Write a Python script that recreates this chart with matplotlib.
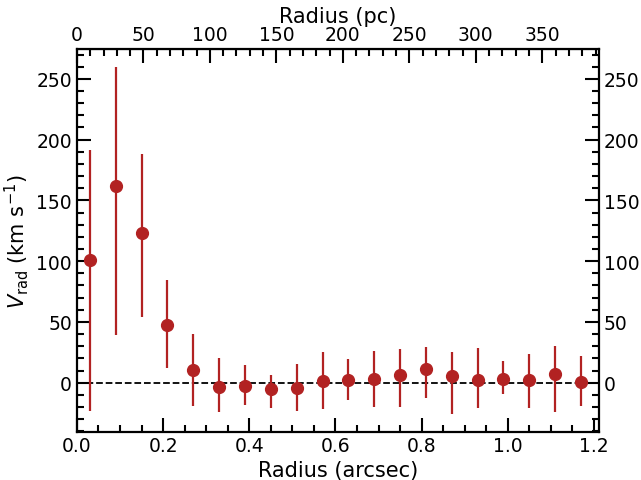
import numpy as np
import matplotlib.pyplot as plt
from matplotlib.ticker import MultipleLocator

# radial velocity profile
radius_arcsec = np.arange(20) * 0.06 + 0.03
v_rad = np.array([100.8, 162.0, 123.5, 47.3, 10.5, -3.2, -2.7, -5.5, -4.4, 1.7,
                  2.2, 2.8, 6.4, 11.0, 5.6, 2.5, 3.3, 2.5, 7.5, 0.9])
v_top = np.array([191.7, 259.6, 187.9, 84.6, 40.4, 20.6, 14.8, 6.0, 15.0, 25.0,
                  19.4, 26.4, 27.8, 29.4, 25.5, 28.6, 18.0, 24.0, 30.0, 22.0])
v_bot = np.array([-23.6, 39.2, 53.8, 12.0, -19.5, -24.0, -18.4, -20.5, -23.0, -22.0,
                  -14.4, -19.7, -20.3, -12.5, -26.0, -20.5, -9.5, -20.5, -24.4, -18.9])

PC_PER_ARCSEC = 324.0

fig = plt.figure(figsize=(6.41, 4.81), dpi=100)
ax = fig.add_axes([0.120, 0.1008, 0.814, 0.795])

yerr = np.vstack([v_rad - v_bot, v_top - v_rad])
ax.errorbar(radius_arcsec, v_rad, yerr=yerr, fmt='o', color='#b22222',
            ms=8.5, elinewidth=1.6, capsize=0, zorder=3)
ax.axhline(0, color='k', ls='--', lw=1.3, zorder=2)

ax.set_xlim(0, 1.211)
ax.set_ylim(-40.2, 274.5)
ax.set_xlabel('Radius (arcsec)', fontsize=15, labelpad=3)
ax.set_ylabel(r'$V_{\rm rad}$ (km s$^{-1}$)', fontsize=15)

ax.xaxis.set_major_locator(MultipleLocator(0.2))
ax.xaxis.set_minor_locator(MultipleLocator(0.05))
ax.yaxis.set_major_locator(MultipleLocator(50))
ax.yaxis.set_minor_locator(MultipleLocator(10))
ax.tick_params(which='both', direction='in', top=False, right=True,
               labelright=True, labelsize=13.5, width=1.5)
ax.tick_params(which='major', length=10)
ax.tick_params(which='minor', length=5)
for sp in ax.spines.values():
    sp.set_linewidth(1.6)

sec = ax.secondary_xaxis('top', functions=(lambda x: x * PC_PER_ARCSEC,
                                           lambda x: x / PC_PER_ARCSEC))
sec.set_xlabel('Radius (pc)', fontsize=15, labelpad=2)
sec.xaxis.set_major_locator(MultipleLocator(50))
sec.xaxis.set_minor_locator(MultipleLocator(10))
sec.tick_params(which='both', direction='in', labelsize=13.5, width=1.5)
sec.tick_params(which='major', length=10)
sec.tick_params(which='minor', length=5)

fig.savefig('out.png', dpi=100)
